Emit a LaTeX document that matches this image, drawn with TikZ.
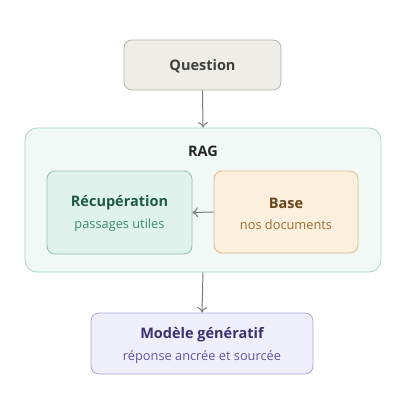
\documentclass[tikz,border=0pt]{standalone}
\usepackage{fontspec}
\setmainfont{Open Sans}
\usepackage{xcolor}
\usetikzlibrary{arrows.meta}

\definecolor{qfill}{HTML}{EFEDE8}
\definecolor{qline}{HTML}{B5B2AC}
\definecolor{ragfill}{HTML}{F0F9F6}
\definecolor{ragline}{HTML}{A9D3C6}
\definecolor{recfill}{HTML}{E0F2EC}
\definecolor{recline}{HTML}{8EC2B1}
\definecolor{rectext}{HTML}{1F5A48}
\definecolor{recsub}{HTML}{3C8A74}
\definecolor{basefill}{HTML}{FCEFDD}
\definecolor{baseline}{HTML}{DDBB8C}
\definecolor{basetext}{HTML}{6B4418}
\definecolor{basesub}{HTML}{9A6A34}
\definecolor{modfill}{HTML}{EFEEFB}
\definecolor{modline}{HTML}{A9A6DB}
\definecolor{modtext}{HTML}{37336E}
\definecolor{modsub}{HTML}{5B57A0}
\definecolor{arr}{HTML}{7A7A7A}

\tikzset{
  box/.style={draw, rounded corners=8pt, line width=0.8pt, inner sep=0pt},
  title/.style={font=\fontsize{14.5}{16}\selectfont\bfseries},
  sub/.style={font=\fontsize{12.8}{14}\selectfont},
  link/.style={draw=arr, line width=1pt, -{To[length=5.5pt,width=10pt]}}
}

\begin{document}
\begin{tikzpicture}[x=1pt,y=-1pt]
\useasboundingbox (0,0) rectangle (400,400);

% question
\node[box, draw=qline, fill=qfill, minimum width=157pt, minimum height=50pt] (question) at (202.5,65) {};
\node[title, text=black!75] at (202.5,66) {Question};

% rag container
\node[box, draw=ragline, fill=ragfill, rounded corners=12pt, minimum width=356pt, minimum height=144pt] (rag) at (203,200) {};
\node[title, text=black!85] (raglbl) at (203,151) {RAG};

% retrieval + base
\node[box, draw=recline, fill=recfill, minimum width=145pt, minimum height=83pt] (rec) at (119.5,212.5) {};
\node[title, text=rectext] at (119.5,203) {Récupération};
\node[sub, text=recsub] at (119.5,225) {passages utiles};

\node[box, draw=baseline, fill=basefill, minimum width=144pt, minimum height=82pt] (base) at (286,212) {};
\node[title, text=basetext] at (286,203) {Base};
\node[sub, text=basesub] at (286,225) {nos documents};

% generator
\node[box, draw=modline, fill=modfill, minimum width=222pt, minimum height=61pt] (model) at (202,343.5) {};
\node[title, text=modtext] at (202,335) {Modèle génératif};
\node[sub, text=modsub] at (202,357) {réponse ancrée et sourcée};

\draw[link] (question.south) -- (rag.north);
\draw[link] (base.west) -- (rec.east);
\draw[link] (rag.south) -- (model.north);

\end{tikzpicture}
\end{document}
